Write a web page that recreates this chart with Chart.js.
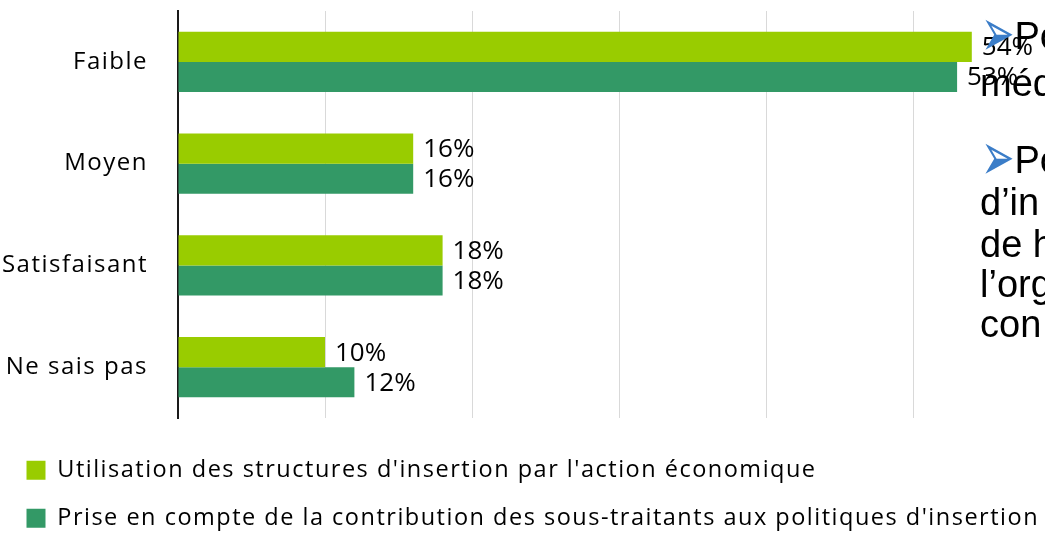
<!DOCTYPE html>
<html lang="fr">
<head>
<meta charset="utf-8">
<script src="https://cdn.jsdelivr.net/npm/chart.js@4.4.1/dist/chart.umd.min.js"></script>
<style>
  html, body { margin: 0; padding: 0; background: #fff; width: 1045px; height: 533px; overflow: hidden; }
  #wrap { position: relative; width: 1045px; height: 533px; overflow: hidden; }
  #mainChart { position: absolute; left: 0; top: 0; }
  .slide { position: absolute; left: 980px; font-family: "Liberation Sans", Arial, sans-serif; font-size: 38px; line-height: 40px; color: #000; white-space: nowrap; }
  .puce { display: inline-block; font-family: "DejaVu Sans", sans-serif; color: #3b7dc8; font-size: 40px; line-height: 40px; transform: scaleY(1.7); transform-origin: 50% 60%; }
</style>
</head>
<body>
<div id="wrap">
  <canvas id="mainChart" width="1100" height="540"></canvas>
  <div class="slide" style="top:15px; left:981px;"><span class="puce">➢</span>Po</div>
  <div class="slide" style="top:63px;">méd</div>
  <div class="slide" style="top:139px; left:981px;"><span class="puce">➢</span>Po</div>
  <div class="slide" style="top:182px;">d’in</div>
  <div class="slide" style="top:224px;">de h</div>
  <div class="slide" style="top:264px;">l’org</div>
  <div class="slide" style="top:304px;">con</div>
</div>
<script>
const categories = ['Faible', 'Moyen', 'Satisfaisant', 'Ne sais pas'];
const seriesNames = [
    "Utilisation des structures d'insertion par l'action économique",
    "Prise en compte de la contribution des sous-traitants aux politiques d'insertion"
];
const utilisation = [54, 16, 18, 10];
const priseEnCompte = [53, 16, 18, 12];
const xTicks = [0, 10, 20, 30, 40, 50, 60];

// étiquettes de valeur au bout des barres
const barLabels = {
    id: 'barLabels',
    afterDatasetsDraw(chart) {
        const ctx = chart.ctx;
        ctx.save();
        ctx.letterSpacing = '0px';
        ctx.font = '26px "Open Sans"';
        ctx.fillStyle = '#000';
        ctx.textAlign = 'left';
        ctx.textBaseline = 'middle';
        chart.data.datasets.forEach((ds, i) => {
            chart.getDatasetMeta(i).data.forEach((bar, j) => {
                ctx.fillText(ds.data[j] + '%', bar.x + 10, bar.y + 1);
            });
        });
        ctx.restore();
    }
};

// texte un peu espacé comme dans l'original
const spacing = {
    id: 'spacing',
    beforeUpdate(chart) { chart.ctx.letterSpacing = '1.5px'; },
    beforeDraw(chart) { chart.ctx.letterSpacing = '1.5px'; }
};

new Chart(document.getElementById('mainChart'), {
    type: 'bar',
    data: {
        labels: categories,
        datasets: [{
            label: seriesNames[0],
            data: utilisation,
            backgroundColor: '#99cc00',
            categoryPercentage: 0.59,
            barPercentage: 1
        }, {
            label: seriesNames[1],
            data: priseEnCompte,
            backgroundColor: '#339966',
            categoryPercentage: 0.59,
            barPercentage: 1
        }]
    },
    plugins: [spacing, barLabels],
    options: {
        responsive: false,
        animation: false,
        indexAxis: 'y',
        layout: { padding: { top: 11, right: 40, left: 2, bottom: 0 } },
        plugins: {
            legend: {
                position: 'bottom',
                align: 'start',
                labels: {
                    boxWidth: 19,
                    boxHeight: 19,
                    padding: 24.5,
                    color: '#000',
                    font: { family: '"Open Sans"', size: 23.5 }
                }
            },
            tooltip: { enabled: false }
        },
        scales: {
            x: {
                min: xTicks[0],
                max: xTicks[xTicks.length - 1],
                ticks: { display: false, stepSize: xTicks[1] - xTicks[0] },
                grid: { color: '#d9d9d9', drawTicks: false },
                border: { display: false },
                afterFit(s) { s.height = 16; }
            },
            y: {
                ticks: { color: '#000', padding: 30, font: { family: '"Open Sans"', size: 24 } },
                grid: { display: false, drawTicks: false },
                border: { color: '#1a1a1a', width: 2 },
                afterFit(s) {
                    s.width = 176;
                    s.paddingTop = 0;
                    s.paddingBottom = 0;
                }
            }
        }
    }
});
</script>
</body>
</html>
